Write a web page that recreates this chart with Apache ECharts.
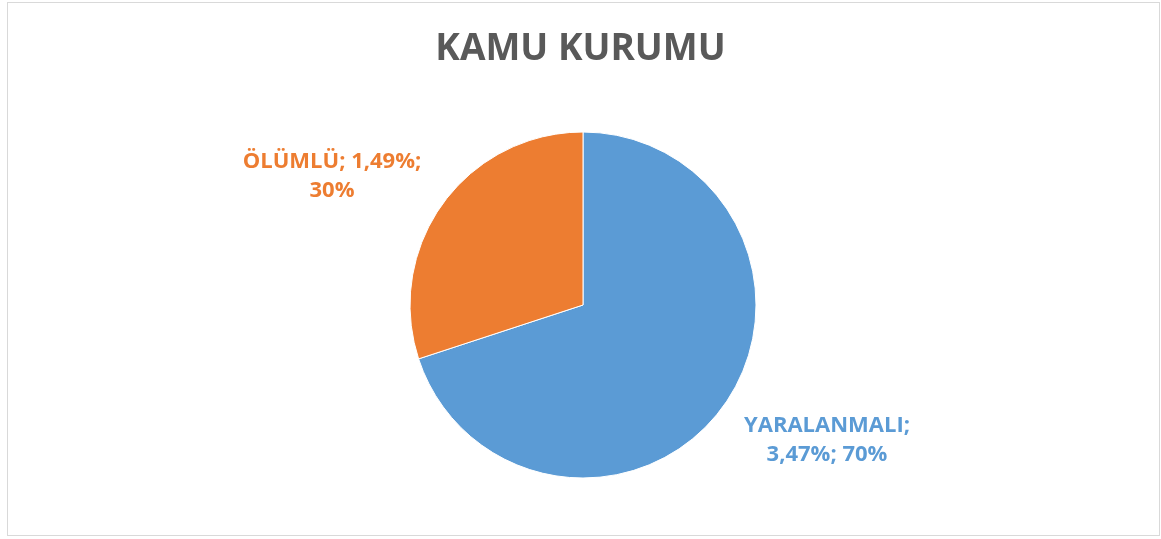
<!DOCTYPE html>
<html>
<head>
<meta charset="utf-8">
<script src="https://cdn.jsdelivr.net/npm/echarts@6/dist/echarts.min.js"></script>
<style>
	html, body { margin: 0; padding: 0; background: #fff; }
	#frame { position: absolute; left: 7px; top: 2px; width: 1151px; height: 532px; border: 1px solid #d9d9d9; }
	#main { position: absolute; left: 0; top: 0; width: 1161px; height: 539px; }
</style>
</head>
<body>
<div id="frame"></div>
<div id="main"></div>
<script>
	// değerler (%)
	var categories = ['YARALANMALI', 'ÖLÜMLÜ'];
	var values = [3.47, 1.49];
	var colors = ['#5B9BD5', '#ED7D31'];

	var fmt = function (v) { return v.toFixed(2).replace('.', ','); };

	var option = {
		animation: false,
		title: {
			text: 'KAMU KURUMU',
			left: 'center',
			top: 26,
			textStyle: {
				color: '#595959',
				fontSize: 37,
				fontWeight: 'bold',
				fontFamily: 'Open Sans'
			}
		},
		series: [{
			type: 'pie',
			center: [583, 305],
			radius: 173,
			startAngle: 90,
			clockwise: true,
			itemStyle: {
				borderColor: '#fff',
				borderWidth: 1
			},
			label: {
				show: true,
				position: 'outside',
				fontFamily: 'Open Sans',
				fontSize: 22,
				fontWeight: 'bold',
				lineHeight: 29,
				align: 'center',
				formatter: function (p) {
					var pct = Math.round(p.percent) + '%';
					if (p.dataIndex === 0) {
						return p.name + ';\n' + fmt(p.value) + '%; ' + pct;
					}
					return p.name + '; ' + fmt(p.value) + '%;\n' + pct;
				}
			},
			labelLine: { show: false },
			labelLayout: function (params) {
				if (params.dataIndex === 0) {
					return { x: 827, y: 440, align: 'center', verticalAlign: 'middle' };
				}
				return { x: 332, y: 176, align: 'center', verticalAlign: 'middle' };
			},
			data: categories.map(function (c, i) {
				return {
					name: c,
					value: values[i],
					itemStyle: { color: colors[i] },
					label: { color: colors[i] }
				};
			})
		}]
	};

	var chart = echarts.init(document.getElementById('main'));
	chart.setOption(option);
</script>
</body>
</html>
